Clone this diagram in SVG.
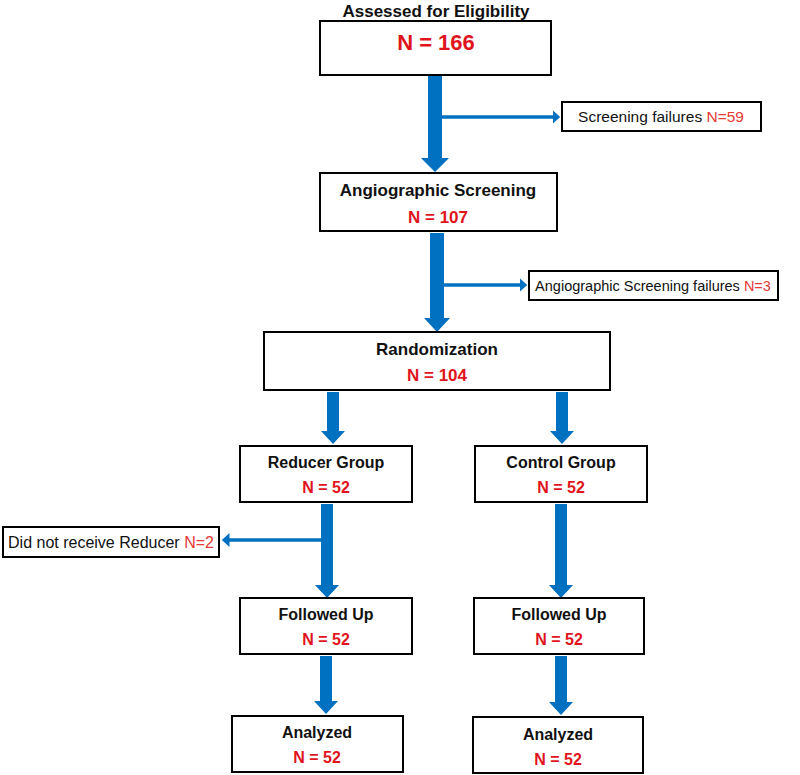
<svg xmlns="http://www.w3.org/2000/svg" width="800" height="775" viewBox="0 0 800 775">
<style>
.box{fill:#fff;stroke:#000;stroke-width:2}
.t{font-family:"Liberation Sans",Arial,sans-serif;font-weight:bold;font-size:16px;fill:#111;text-anchor:middle}
.n{font-family:"Liberation Sans",Arial,sans-serif;font-weight:bold;font-size:16px;fill:#e0141c;text-anchor:middle}
.s{font-family:"Liberation Sans",Arial,sans-serif;font-size:15px;fill:#111;text-anchor:middle}
.r{fill:#e53935}
.arr{fill:#0070c0}
.br{stroke:#0070c0;stroke-width:3.5;fill:none}
</style>
<defs>
<marker id="ah" markerWidth="4" markerHeight="4" refX="1" refY="2" orient="auto" markerUnits="strokeWidth">
<path d="M0,0 L2.2,2 L0,4 z" fill="#0070c0"/>
</marker>
</defs>
<g id="connectors">
<polygon class="arr" points="428,76 442,76 442,158 449,158 435,172 421,158 428,158"/>
<line class="br" x1="442" y1="117" x2="556" y2="117" marker-end="url(#ah)"/>
<polygon class="arr" points="430,233 444,233 444,318 450,318 437,332 424,318 430,318"/>
<line class="br" x1="444" y1="285" x2="523" y2="285" marker-end="url(#ah)"/>
<polygon class="arr" points="327,392 339,392 339,431 345,431 333,444 321,431 327,431"/>
<polygon class="arr" points="556,392 568,392 568,431 574,431 562,444 550,431 556,431"/>
<polygon class="arr" points="321,504 333,504 333,585 339,585 327,598 315,585 321,585"/>
<line class="br" x1="321" y1="540" x2="226" y2="540" marker-end="url(#ah)"/>
<polygon class="arr" points="555,504 567,504 567,585 573,585 561,598 549,585 555,585"/>
<polygon class="arr" points="320,656 332,656 332,701 338,701 326,714 314,701 320,701"/>
<polygon class="arr" points="555,656 567,656 567,702 573,702 561,715 549,702 555,702"/>
</g>
<g id="assessed">
<text class="t" x="436" y="17" style="font-size:17px">Assessed for Eligibility</text>
<rect class="box" x="320" y="21" width="231" height="54"/>
<text class="n" x="436" y="50" style="font-size:22px">N = 166</text>
</g>
<g id="screening-failures">
<rect class="box" x="562" y="102" width="199" height="29"/>
<text class="s" x="661" y="122" style="font-size:15.5px">Screening failures <tspan class="r">N=59</tspan></text>
</g>
<g id="angiographic">
<rect class="box" x="320" y="173" width="237" height="58"/>
<text class="t" x="438" y="196" style="font-size:17px">Angiographic Screening</text>
<text class="n" x="438" y="223" style="font-size:17px">N = 107</text>
</g>
<g id="angio-failures">
<rect class="box" x="529" y="271" width="249" height="29"/>
<text class="s" x="653" y="291" style="font-size:14.5px">Angiographic Screening failures <tspan class="r">N=3</tspan></text>
</g>
<g id="randomization">
<rect class="box" x="264" y="332" width="346" height="58"/>
<text class="t" x="437" y="355" style="font-size:17px">Randomization</text>
<text class="n" x="437" y="381" style="font-size:17px">N = 104</text>
</g>
<g id="reducer">
<rect class="box" x="240" y="446" width="172" height="56"/>
<text class="t" x="326" y="468">Reducer Group</text>
<text class="n" x="326" y="493">N = 52</text>
</g>
<g id="control">
<rect class="box" x="475" y="446" width="172" height="56"/>
<text class="t" x="561" y="468">Control Group</text>
<text class="n" x="561" y="493">N = 52</text>
</g>
<g id="did-not-receive">
<rect class="box" x="3" y="527" width="216" height="30"/>
<text class="s" x="111" y="548" style="font-size:16px">Did not receive Reducer <tspan class="r">N=2</tspan></text>
</g>
<g id="followed-left">
<rect class="box" x="240" y="598" width="172" height="56"/>
<text class="t" x="326" y="620">Followed  Up</text>
<text class="n" x="326" y="645">N = 52</text>
</g>
<g id="followed-right">
<rect class="box" x="474" y="598" width="170" height="56"/>
<text class="t" x="559" y="620">Followed  Up</text>
<text class="n" x="559" y="645">N = 52</text>
</g>
<g id="analyzed-left">
<rect class="box" x="232" y="716" width="171" height="56"/>
<text class="t" x="317" y="738">Analyzed</text>
<text class="n" x="317" y="763">N = 52</text>
</g>
<g id="analyzed-right">
<rect class="box" x="473" y="717" width="170" height="56"/>
<text class="t" x="558" y="740">Analyzed</text>
<text class="n" x="558" y="765">N = 52</text>
</g>
</svg>
